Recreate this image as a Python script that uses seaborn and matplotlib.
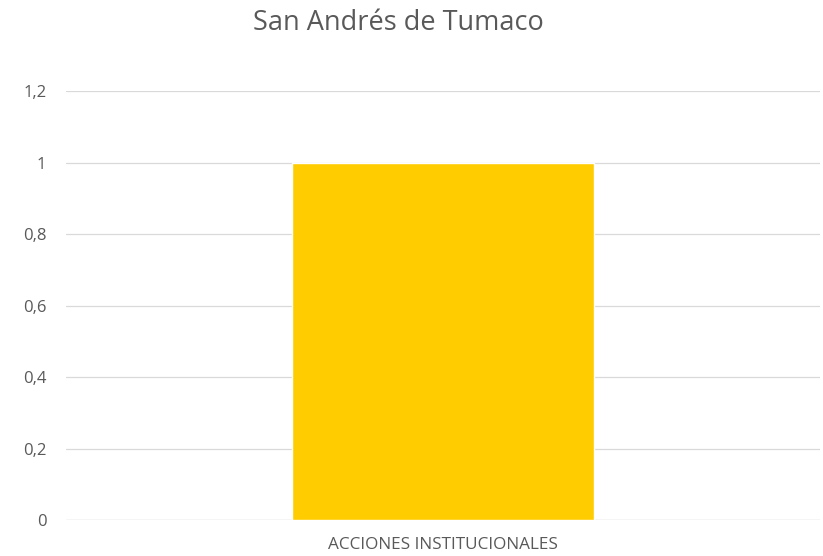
import matplotlib
matplotlib.use("Agg")
import matplotlib.pyplot as plt
import seaborn as sns
import pandas as pd

categories = ["ACCIONES INSTITUCIONALES"]
values = [1]
y_ticks = [0, 0.2, 0.4, 0.6, 0.8, 1, 1.2]
y_labels = ["0", "0,2", "0,4", "0,6", "0,8", "1", "1,2"]

df = pd.DataFrame({"categoria": categories, "valor": values})

sns.set_style("white")
plt.rcParams["font.family"] = ["Open Sans", "DejaVu Sans"]

fig = plt.figure(figsize=(8.23, 5.56), dpi=100)
ax = fig.add_axes([0.08, 0.0647, 0.916, 0.7716])
sns.barplot(data=df, x="categoria", y="valor", color="#FFCC00", saturation=1,
            width=0.4, ax=ax, zorder=3)
ax.set_xlim(-0.5, 0.5)
ax.set_ylim(0, 1.2)
ax.set_yticks(y_ticks)
ax.set_yticklabels(y_labels)
ax.yaxis.grid(True, color="#D9D9D9", linewidth=0.9, zorder=0)
ax.set_axisbelow(True)
for s in ax.spines.values():
    s.set_visible(False)
ax.axhline(0, color="#D9D9D9", linewidth=0.9, zorder=1)
ax.tick_params(axis="both", length=0, colors="#595959", labelsize=12)
ax.tick_params(axis="y", pad=14)
ax.tick_params(axis="x", pad=12, labelsize=12.3)
ax.set_xlabel("")
ax.set_ylabel("")
fig.text(0.4836, 0.958, "San Andrés de Tumaco", ha="center", va="center",
         fontsize=19.5, color="#595959")
fig.savefig("out.png", dpi=100)
